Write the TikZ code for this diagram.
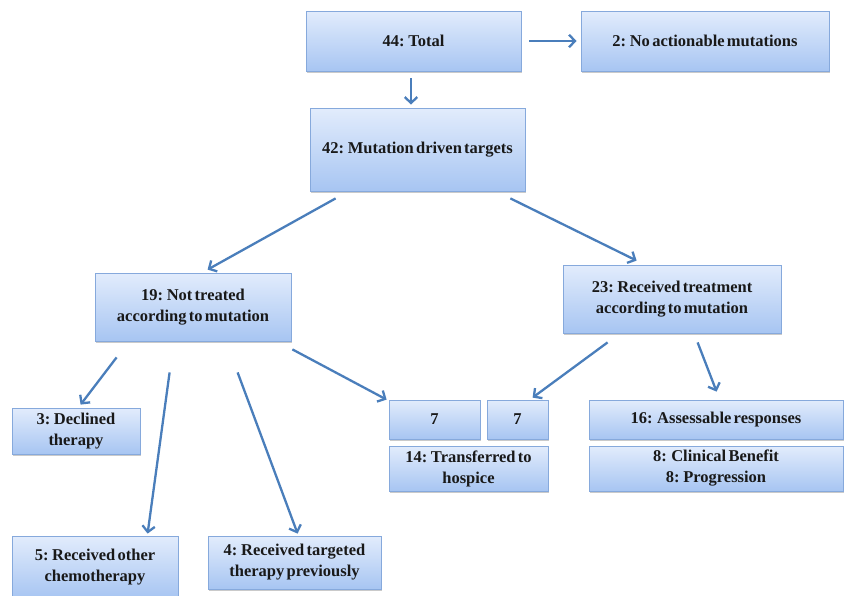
\documentclass[tikz,border=0pt]{standalone}
\usepackage{fontspec}
\setmainfont{Liberation Serif}[WordSpace=0.55]
\usetikzlibrary{arrows.meta,shadows}
\definecolor{boxtop}{HTML}{E2ECFC}
\definecolor{boxbot}{HTML}{A7C5F2}
\definecolor{boxline}{HTML}{86A9DC}
\definecolor{arrcol}{HTML}{4A7EBB}
\tikzset{
  fbox/.style={draw=boxline, line width=0.8pt, top color=boxtop, bottom color=boxbot,
    drop shadow={shadow xshift=1.2pt, shadow yshift=-1.8pt, opacity=0.35, fill=black!60},
    font=\bfseries\fontsize{16.5}{21}\selectfont, align=center, inner sep=0pt, text=black!90},
  arr/.style={draw=arrcol, line width=2.3pt, -{Straight Barb[length=6pt,width=12.5pt]}}
}
\begin{document}
\begin{tikzpicture}[x=1pt,y=-1pt]
\useasboundingbox (0,0) rectangle (844,595);
\node[fbox, minimum width=215, minimum height=60] (total) at (413.5,41) {44: Total};
\node[fbox, minimum width=248, minimum height=60] (noact) at (705,41) {2: No actionable mutations};
\node[fbox, minimum width=215, minimum height=83] (mut) at (417.5,149.5) {42: Mutation driven targets};
\node[fbox, minimum width=196, minimum height=68] (nt) at (193,307) {19: Not treated\\according to mutation};
\node[fbox, minimum width=218, minimum height=68] (rt) at (672,299) {23: Received treatment\\according to mutation};
\node[fbox, minimum width=128, minimum height=46] (dec) at (76,431) {3: Declined\\therapy};
\node[fbox, minimum width=91, minimum height=39] (sa) at (434.5,419.5) {7};
\node[fbox, minimum width=61, minimum height=39] (sb) at (517.5,419.5) {7};
\node[fbox, minimum width=159, minimum height=45] (hosp) at (468.5,468.5) {14: Transferred to\\hospice};
\node[fbox, minimum width=254, minimum height=39] (ass) at (716,419.5) {16:\ \ Assessable responses};
\node[fbox, minimum width=254, minimum height=45] (cb) at (716,468.5) {8:\ \ Clinical Benefit\\8: Progression};
\node[fbox, minimum width=166, minimum height=62] (chemo) at (95,567) {5: Received other\\chemotherapy};
\node[fbox, minimum width=173, minimum height=53] (targ) at (294.5,562.5) {4: Received targeted\\therapy previously};

\draw[arr] ([shift={(8,0)}]total.east) -- ([shift={(-4,0)}]noact.west);
\draw[arr] ([shift={(-2.5,7)}]total.south) -- ([shift={(-6.5,-3)}]mut.north);
\draw[arr] ([shift={(26,7)}]mut.south west) -- ([shift={(113,-3)}]nt.north west);
\draw[arr] ([shift={(-15,7)}]mut.south east) -- ([shift={(74,-4)}]rt.north west);
\draw[arr] ([shift={(22,16)}]nt.south west) -- ([shift={(69,-3)}]dec.north west);
\draw[arr] ([shift={(75,31)}]nt.south west) -- ([shift={(136,-2)}]chemo.north west);
\draw[arr] ([shift={(143,31)}]nt.south west) -- ([shift={(90,-2)}]targ.north west);
\draw[arr] ([shift={(1,8)}]nt.south east) -- ([shift={(-2,0)}]sa.north west);
\draw[arr] ([shift={(45,9)}]rt.south west) -- ([shift={(46,-2)}]sb.north west);
\draw[arr] ([shift={(135,9)}]rt.south west) -- ([shift={(128,-8)}]ass.north west);
\end{tikzpicture}
\end{document}
